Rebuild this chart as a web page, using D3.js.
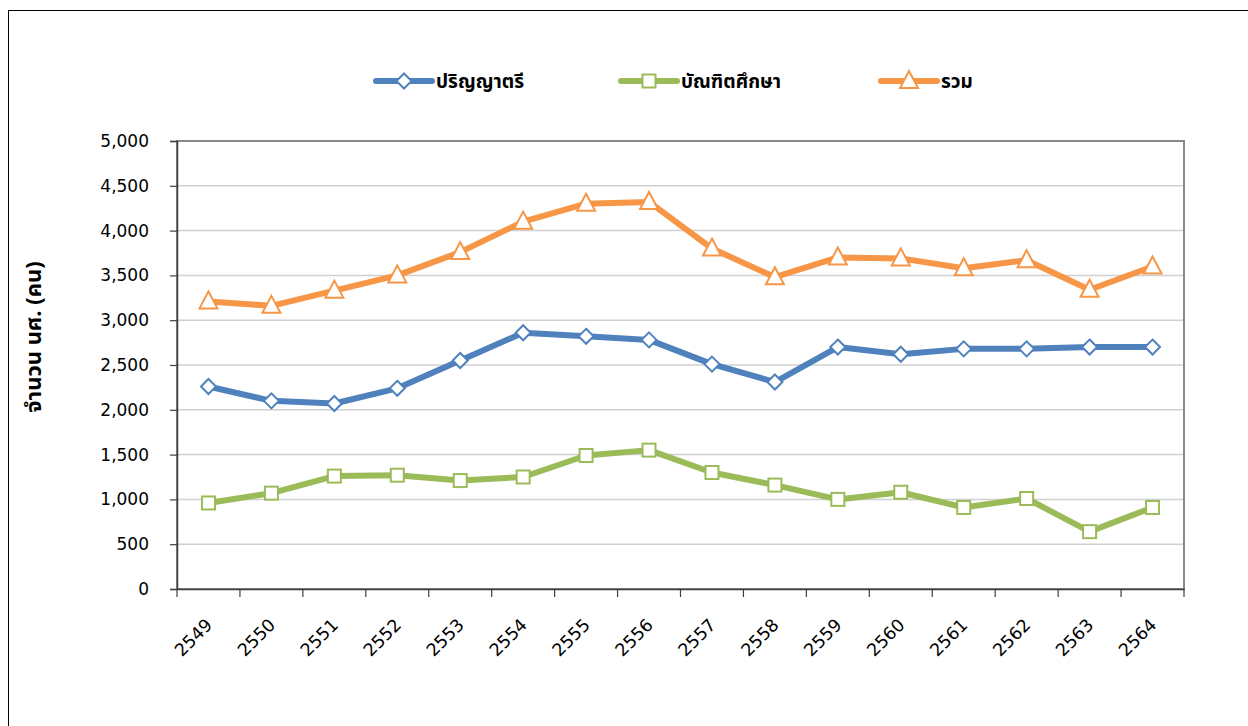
<!DOCTYPE html>
<html><head><meta charset="utf-8">
<script src="https://cdn.jsdelivr.net/npm/d3@7/dist/d3.min.js"></script>
<style>
html,body{margin:0;padding:0;background:#fff;}
svg{display:block;}
</style></head>
<body>
<svg id="chart" width="1248" height="726"></svg>
<script>
const years = ["2549","2550","2551","2552","2553","2554","2555","2556","2557","2558","2559","2560","2561","2562","2563","2564"];
const bachelor = [2260,2100,2070,2240,2550,2860,2820,2780,2510,2310,2700,2620,2680,2680,2700,2700];
const graduate = [960,1070,1260,1270,1210,1250,1490,1550,1300,1160,1000,1080,910,1010,640,910];
const total = [3210,3160,3330,3500,3760,4100,4300,4320,3800,3480,3700,3690,3580,3670,3340,3600];
const yTicks = [0,500,1000,1500,2000,2500,3000,3500,4000,4500,5000];
const seriesNames = ["ปริญญาตรี","บัณฑิตศึกษา","รวม"];
const yTitle = "จำนวน นศ. (คน)";

const svg = d3.select("#chart");
const m = {left:177, right:1184, top:141, bottom:589};

// outer border
svg.append("rect").attr("x",8.5).attr("y",10.5).attr("width",1300).attr("height",800)
  .attr("fill","#fff").attr("stroke","#000").attr("stroke-width",1);

const x = d3.scaleBand().domain(years).range([m.left,m.right]).padding(0);
const y = d3.scaleLinear().domain([0,5000]).range([m.bottom,m.top]);

const fontNum = "'DejaVu Sans', Verdana, sans-serif";
const fontThai = "'Noto Sans Thai','Loma','Tahoma','DejaVu Sans',sans-serif";

// gridlines
svg.append("g").selectAll("line").data(yTicks.filter(d=>d>0)).join("line")
  .attr("x1",m.left).attr("x2",m.right)
  .attr("y1",d=>y(d)).attr("y2",d=>y(d))
  .attr("stroke","#d0d0d0").attr("stroke-width",1.5);

// plot border
svg.append("rect").attr("x",m.left).attr("y",m.top).attr("width",m.right-m.left).attr("height",m.bottom-m.top)
  .attr("fill","none").attr("stroke","#898989").attr("stroke-width",2);

// y axis
const yAxis = svg.append("g").attr("transform",`translate(${m.left},0)`)
  .call(d3.axisLeft(y).tickValues(yTicks).tickSize(7).tickPadding(21).tickFormat(d3.format(",")));
yAxis.select(".domain").attr("stroke","#404040").attr("stroke-width",1.5);
yAxis.selectAll(".tick line").attr("stroke","#404040").attr("stroke-width",1.2);
yAxis.selectAll("text").attr("font-family",fontNum).attr("font-size",17).attr("fill","#000");

// x axis
const xAxis = svg.append("g").attr("transform",`translate(0,${m.bottom})`)
  .call(d3.axisBottom(x).tickSize(0).tickFormat(""));
xAxis.select(".domain").attr("stroke","#404040").attr("stroke-width",1.5);
const bounds = d3.range(years.length+1).map(i=>m.left + i*x.step());
svg.append("g").selectAll("line").data(bounds).join("line")
  .attr("x1",d=>d).attr("x2",d=>d).attr("y1",m.bottom).attr("y2",m.bottom+8)
  .attr("stroke","#404040").attr("stroke-width",1.2);
svg.append("g").selectAll("text").data(years).join("text")
  .attr("transform",d=>`translate(${x(d)+x.bandwidth()/2+5},${m.bottom+37}) rotate(-45)`)
  .attr("text-anchor","end")
  .attr("font-family",fontNum).attr("font-size",17.5).attr("fill","#000")
  .text(d=>d);

// y title
svg.append("text")
  .attr("transform",`translate(41,337) rotate(-90)`)
  .attr("text-anchor","middle")
  .attr("font-family",fontThai).attr("font-weight","bold").attr("font-size",22).attr("fill","#000")
  .text(yTitle);

const colors = ["#4f81bd","#9bbb59","#f79646"];
const data = [bachelor, graduate, total];
const cx = i => x(years[i]) + x.bandwidth()/2;

function marker(g, k, px, py, c){
  if(k===0){
    g.append("path").attr("d",`M${px},${py-7.5}L${px+7.5},${py}L${px},${py+7.5}L${px-7.5},${py}Z`)
     .attr("fill","#fff").attr("stroke",c).attr("stroke-width",2);
  } else if(k===1){
    g.append("rect").attr("x",px-6.5).attr("y",py-6.5).attr("width",13).attr("height",13)
     .attr("fill","#fff").attr("stroke",c).attr("stroke-width",2);
  } else {
    g.append("path").attr("d",`M${px},${py-10}L${px+9},${py+7}L${px-9},${py+7}Z`)
     .attr("fill","#fff").attr("stroke",c).attr("stroke-width",2);
  }
}

const line = d3.line().x((d,i)=>cx(i)).y(d=>y(d));
data.forEach((arr,k)=>{
  const g = svg.append("g");
  g.append("path").datum(arr).attr("d",line).attr("fill","none")
    .attr("stroke",colors[k]).attr("stroke-width",6).attr("stroke-linejoin","round");
  arr.forEach((v,i)=>marker(g,k,cx(i),y(v),colors[k]));
});

// legend
const legX = [376, 621, 881];
const legY = 81;
seriesNames.forEach((n,k)=>{
  const g = svg.append("g");
  g.append("line").attr("x1",legX[k]).attr("x2",legX[k]+56).attr("y1",legY).attr("y2",legY)
    .attr("stroke",colors[k]).attr("stroke-width",6).attr("stroke-linecap","round");
  marker(g,k,legX[k]+28,legY,colors[k]);
  g.append("text").attr("x",legX[k]+60).attr("y",legY+7)
    .attr("font-family",fontThai).attr("font-weight","bold").attr("font-size",19).attr("fill","#000")
    .text(n);
});
</script>
</body></html>
